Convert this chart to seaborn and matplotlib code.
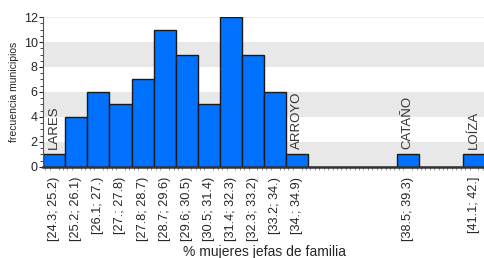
import matplotlib
matplotlib.use("Agg")
import matplotlib.pyplot as plt
from matplotlib.ticker import MultipleLocator
import pandas as pd
import seaborn as sns

# histogram bins (20 bins) and counts of municipios
bin_labels = ['[24.3; 25.2)', '[25.2; 26.1)', '[26.1; 27.)', '[27.; 27.8)', '[27.8; 28.7)',
              '[28.7; 29.6)', '[29.6; 30.5)', '[30.5; 31.4)', '[31.4; 32.3)', '[32.3; 33.2)',
              '[33.2; 34.)', '[34.; 34.9)', '[34.9; 35.8)', '[35.8; 36.7)', '[36.7; 37.6)',
              '[37.6; 38.5)', '[38.5; 39.3)', '[39.3; 40.2)', '[40.2; 41.1)', '[41.1; 42.]']
counts = [1, 4, 6, 5, 7, 11, 9, 5, 12, 9, 6, 1, 0, 0, 0, 0, 1, 0, 0, 1]

# outlier municipios written above their bars
outlier_bins = [0, 11, 16, 19]
outlier_names = ['LARES', 'ARROYO', 'CATAÑO', 'LOÍZA']

df = pd.DataFrame({'bin': bin_labels, 'count': counts})

sns.set_style("white")
plt.rcParams['font.family'] = ['Liberation Sans', 'DejaVu Sans']

fig = plt.figure(figsize=(4.85, 2.58), dpi=100)
ax = fig.add_axes([0.089, 0.353, 0.911, 0.581])

# gray bands behind the bars
for lo in [0, 4, 8]:
    ax.axhspan(lo, lo + 2, color='#e8e8e8', zorder=0, lw=0)
ax.axhline(12, color='#eeeeee', lw=0.8, zorder=0)

sns.barplot(data=df, x='bin', y='count', color='#0072ff', saturation=1,
            width=1.0, edgecolor='#1a1a1a', linewidth=1.0, ax=ax, zorder=2)

for b, name in zip(outlier_bins, outlier_names):
    ax.text(b, counts[b] + 0.45, name, rotation=90, ha='center', va='bottom',
            fontsize=9.5, color='#333333', zorder=3)

ax.set_xlim(-0.5, len(counts) - 0.5)
ax.set_ylim(0, 12)
ax.yaxis.set_major_locator(MultipleLocator(2))
ax.yaxis.set_minor_locator(MultipleLocator(0.5))

shown = [i for i, c in enumerate(counts) if c > 0]
ax.set_xticks(shown)
ax.set_xticklabels([bin_labels[i] for i in shown], rotation=90, fontsize=9.2)
ax.xaxis.set_minor_locator(MultipleLocator(0.2))

ax.tick_params(axis='x', which='major', length=4, width=0.8, color='#555555', pad=3)
ax.tick_params(axis='x', which='minor', length=2, width=0.6, color='#888888', bottom=True)
ax.tick_params(axis='y', which='major', length=3, width=0.8, labelsize=9, pad=1, left=True)
ax.tick_params(axis='y', which='minor', length=2, width=0.6, left=True)

for s in ['top', 'right']:
    ax.spines[s].set_visible(False)
ax.spines['left'].set_color('#555555')
ax.spines['bottom'].set_color('#333333')
ax.spines['bottom'].set_linewidth(1.8)

ax.set_ylabel('frecuencia municipios', fontsize=7.5, labelpad=3)
ax.set_xlabel('% mujeres jefas de familia', fontsize=10)
ax.xaxis.set_label_coords(0.5, -0.52)

plt.savefig('out.png', dpi=100)
